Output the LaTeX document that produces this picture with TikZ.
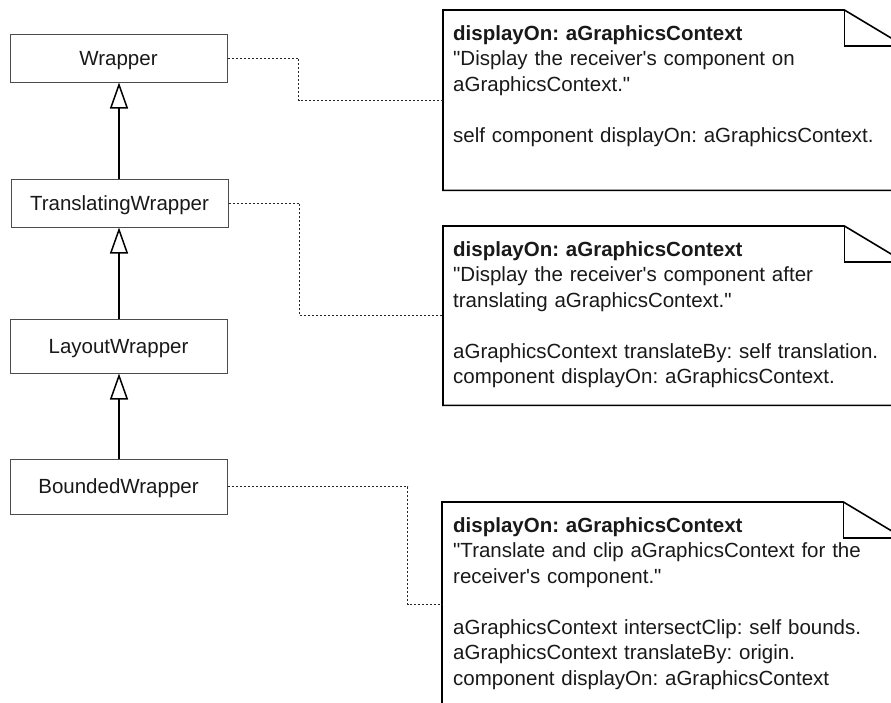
\documentclass[tikz,border=0pt]{standalone}
\usepackage{fontspec}
\setmainfont{Liberation Sans}[Ligatures=TeXOff]
\usetikzlibrary{arrows.meta}
\frenchspacing
\begin{document}
\begin{tikzpicture}[x=1pt,y=-1pt,
  every node/.style={font=\fontsize{20.5}{25.5}\selectfont, text=black!90},
  classbox/.style={draw=black!70, line width=1pt, fill=white,
    minimum width=217pt, minimum height=#1, inner sep=0pt, text depth=0pt},
  noteframe/.style={inner sep=0pt, anchor=north west, minimum width=461pt},
  noteline/.style={draw=black, line width=1.6pt, line join=miter},
  notetext/.style={inner sep=0pt, anchor=base west, text width=430pt, align=left},
  inherit/.style={line width=1.5pt, -{Triangle[open, length=26pt, width=18pt, line width=1.5pt]}},
  dashline/.style={draw=black!85, line width=0.9pt, dash pattern=on 2pt off 2pt}
]
\path[use as bounding box] (0,0) rectangle (891,702);
\clip (0,0) rectangle (891,702);

% class hierarchy
\node[classbox=48pt] (wrapper) at (118.5,58) {Wrapper};
\node[classbox=48pt] (tw) at (119.5,203) {TranslatingWrapper};
\node[classbox=54pt] (lw) at (118.5,346) {LayoutWrapper};
\node[classbox=55pt] (bw) at (118.5,486.5) {BoundedWrapper};

\draw[inherit] (tw.north -| 119,0) -- (wrapper.south -| 119,0);
\draw[inherit] (lw.north -| 119,0) -- (tw.south -| 119,0);
\draw[inherit] (bw.north -| 119,0) -- (lw.south -| 119,0);

% note frames
\node[noteframe, minimum height=180pt] (note1) at (443,10) {};
\node[noteframe, minimum height=179pt] (note2) at (443,226) {};
\node[noteframe, minimum height=204pt] (note3) at (442,502) {};

\foreach \n in {note1,note2,note3}{
  \draw[noteline] (\n.north west) -- ([xshift=-60pt]\n.north east)
    -- ([yshift=-36pt]\n.north east) -- (\n.south east) -- (\n.south west) -- cycle;
  \draw[noteline] ([xshift=-60pt]\n.north east) -- ++(0,36) -- ([yshift=-36pt]\n.north east);
}

% note texts
\node[notetext] (text1) at (453,40) {\textbf{displayOn: aGraphicsContext}\\
"Display the receiver's component on\\
aGraphicsContext."\\[25.5pt]
self component displayOn: aGraphicsContext.};

\node[notetext] (text2) at (453,256) {\textbf{displayOn: aGraphicsContext}\\
"Display the receiver's component after\\
translating aGraphicsContext."\\[25.5pt]
aGraphicsContext translateBy: self translation.\\
component displayOn: aGraphicsContext.};

\node[notetext] (text3) at (453,532) {\textbf{displayOn: aGraphicsContext}\\
"Translate and clip aGraphicsContext for the\\
receiver's component."\\[25.5pt]
aGraphicsContext intersectClip: self bounds.\\
aGraphicsContext translateBy: origin.\\
component displayOn: aGraphicsContext};

% note attachments
\draw[dashline] (wrapper.east) -- ++(71,0) |- (note1.west);
\draw[dashline] (tw.east) -- ++(71,0) |- (note2.west);
\draw[dashline] (bw.east) -- ++(180,0) |- (note3.west);
\end{tikzpicture}
\end{document}
